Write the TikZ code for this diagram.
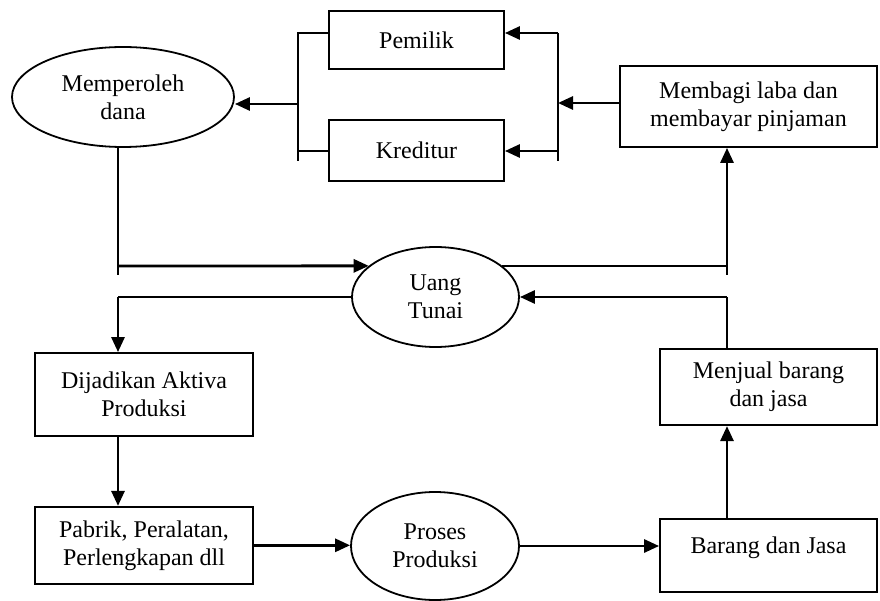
\documentclass[tikz,border=0pt]{standalone}
\usepackage{fontspec}
\setmainfont{Liberation Serif}
\usepackage{tikz}
\usetikzlibrary{shapes.geometric, arrows.meta, positioning, calc}

\begin{document}
\begin{tikzpicture}[x=1pt, y=-1pt,
    box/.style={rectangle, draw, line width=1.8pt, align=center, inner sep=0pt, font=\fontsize{24}{28}\selectfont},
    proc/.style={ellipse, draw, line width=1.8pt, align=center, inner sep=0pt, font=\fontsize{24}{28}\selectfont},
    link/.style={line width=1.6pt},
    flow/.style={line width=2.8pt, -{Triangle[length=15pt, width=13pt]}}]

    \useasboundingbox (0,0) rectangle (880,601);

    % Sumber dana dan pembagian laba
    \node[proc, minimum width=222pt, minimum height=100pt] (dana) at (123,97) {Memperoleh\\ dana};
    \node[box, minimum width=175pt, minimum height=58pt] (pemilik) at (416.5,40) {Pemilik};
    \node[box, minimum width=175pt, minimum height=61pt, below=49pt of pemilik] (kreditur) {Kreditur};
    \node[box, minimum width=257pt, minimum height=81pt] (membagi) at (748.5,106.5) {Membagi laba dan\\ membayar pinjaman};

    % Siklus kas
    \node[proc, minimum width=167pt, minimum height=100pt] (uang) at (435.5,297) {Uang\\ Tunai};
    \node[box, minimum width=218pt, minimum height=83pt] (aktiva) at (144,394.5) {Dijadikan Aktiva\\ Produksi};
    \node[box, minimum width=218pt, minimum height=77pt, below=69pt of aktiva] (pabrik) {Pabrik, Peralatan,\\ Perlengkapan dll};
    \node[proc, minimum width=168pt, minimum height=108pt] (proses) at (435,546) {Proses\\ Produksi};
    \node[box, minimum width=217pt, text height=34pt, text depth=39pt] (barang) at (768.5,555.5) {Barang dan Jasa};
    \node[box, minimum width=217pt, minimum height=76pt, above=92pt of barang] (menjual) {Menjual barang\\ dan jasa};

    % Titik bantu
    \coordinate (lA) at (298,33);
    \coordinate (lB) at (298,151);
    \coordinate (lC) at (298,161);
    \coordinate (lM) at (298,104);
    \coordinate (rA) at (558,33);
    \coordinate (rB) at (558,151);
    \coordinate (rC) at (558,161);
    \coordinate (rM) at (558,103);
    \coordinate (kol) at (118,266);
    \coordinate (kolb) at (118,275);
    \coordinate (kan) at (727,266);
    \coordinate (kanb) at (727,275);

    % Hubungan
    \draw[link] (pemilik.west |- lA) -- (lA) -- (lC);
    \draw[link] (kreditur.west |- lB) -- (lB);
    \draw[flow] (lM) -- (lM -| dana.east);
    \draw[link] (rA) -- (rC);
    \draw[flow] (rA) -- (rA -| pemilik.east);
    \draw[flow] (rB) -- (rB -| kreditur.east);
    \draw[flow] (membagi.west |- rM) -- (rM);

    \draw[link] (dana.south -| kol) -- (kolb);
    \draw[flow] (kol) -- (uang.155);
    \draw[link] (uang.25) -- (uang.25 -| kan);
    \draw[flow] (kanb) -- (kan |- membagi.south);
    \draw[link] (uang.west) -- (kol |- uang.west);
    \draw[flow] (kol |- uang.west) -- (kol |- aktiva.north);
    \draw[link] (kan |- menjual.north) -- (kan |- uang.east);
    \draw[flow] (kan |- uang.east) -- (uang.east);
    \draw[flow] (kol |- aktiva.south) -- (kol |- pabrik.north);
    \draw[flow] (pabrik.east) -- (pabrik.east -| proses.west);
    \draw[flow] (proses.east) -- (proses.east -| barang.west);
    \draw[flow] (kan |- barang.north) -- (kan |- menjual.south);
\end{tikzpicture}
\end{document}
